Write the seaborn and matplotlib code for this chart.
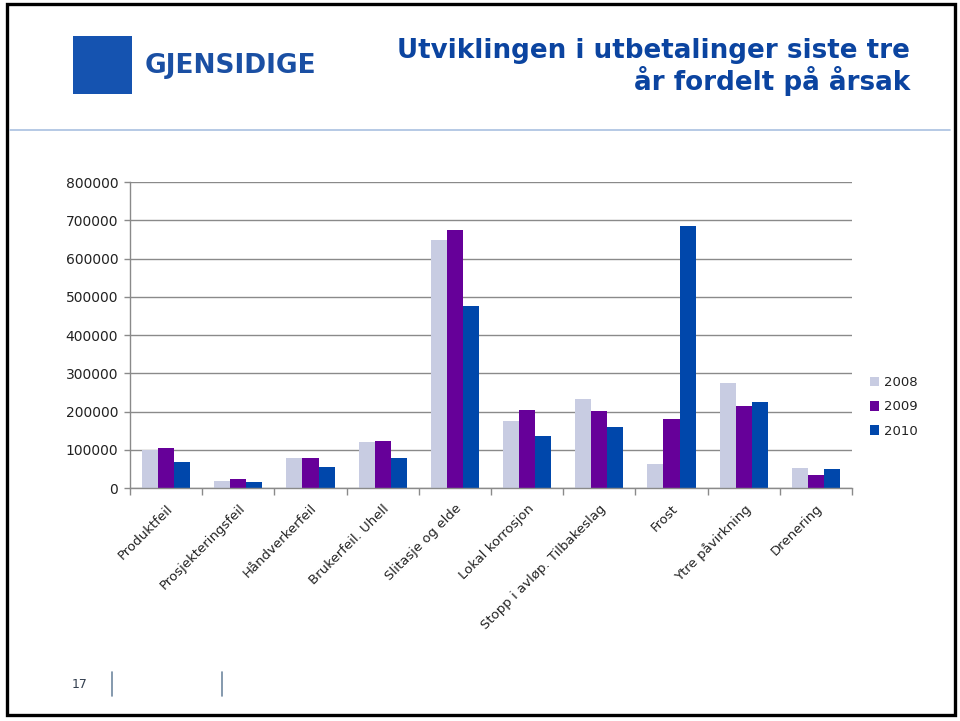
import pandas as pd
import seaborn as sns
import matplotlib.pyplot as plt
from matplotlib.patches import Rectangle
from matplotlib.lines import Line2D
from matplotlib.ticker import StrMethodFormatter

# data
causes = ['Produktfeil', 'Prosjekteringsfeil', 'Håndverkerfeil', 'Brukerfeil. Uhell',
          'Slitasje og elde', 'Lokal korrosjon', 'Stopp i avløp. Tilbakeslag', 'Frost',
          'Ytre påvirkning', 'Drenering']
y2008 = [100000, 19000, 79000, 119000, 648000, 174000, 232000, 64000, 275000, 51000]
y2009 = [104000, 23000, 79000, 124000, 674000, 204000, 201000, 180000, 215000, 35000]
y2010 = [68000, 16500, 55000, 79000, 476000, 135000, 159000, 685000, 224000, 49000]
years = ['2008', '2009', '2010']
colors = ['#c8cce2', '#660099', '#0047ab']

df = pd.DataFrame({'cause': causes, '2008': y2008, '2009': y2009, '2010': y2010})
df = df.melt(id_vars='cause', var_name='year', value_name='value')

sns.set_theme(style='white')
plt.rcParams['font.family'] = ['DejaVu Sans']

fig = plt.figure(figsize=(9.6, 7.21), dpi=100)
W, H = 960, 721
ax = fig.add_axes([130 / W, 1 - 488 / H, (852 - 130) / W, (488 - 182) / H])

sns.barplot(data=df, x='cause', y='value', hue='year', palette=colors,
            saturation=1, width=0.667, ax=ax, linewidth=0)

ax.set_ylim(0, 800000)
ax.set_xlim(-0.5, len(causes) - 0.5)
ax.set_yticks(range(0, 800001, 100000))
ax.yaxis.set_major_formatter(StrMethodFormatter('{x:.0f}'))
ax.yaxis.grid(True, color='#8a8a8a', linewidth=1)
ax.set_axisbelow(True)
ax.set_xlabel('')
ax.set_ylabel('')

for s in ['top', 'right']:
    ax.spines[s].set_visible(False)
for s in ['left', 'bottom']:
    ax.spines[s].set_color('#8a8a8a')
    ax.spines[s].set_linewidth(1)

ax.tick_params(axis='y', length=4, width=1, color='#8a8a8a', labelsize=10,
               labelcolor='#222222', pad=4.5, left=True)
ax.set_xticks(range(len(causes)))
ax.set_xticklabels(causes, rotation=45, ha='right', rotation_mode='anchor')
ax.tick_params(axis='x', length=0, labelsize=9.5, labelcolor='#222222', pad=10)
ax.set_xticks([i - 0.5 for i in range(len(causes) + 1)], minor=True)
ax.tick_params(axis='x', which='minor', length=5, width=1, color='#8a8a8a', bottom=True)

leg = ax.legend(loc='center left', bbox_to_anchor=(863 / W, 1 - 407 / H),
                bbox_transform=fig.transFigure, frameon=False, fontsize=9.5,
                handlelength=0.7, handleheight=0.7, handletextpad=0.4,
                labelspacing=0.85, borderpad=0)
for t in leg.get_texts():
    t.set_color('#222222')

# title
fig.text(910 / W, 1 - 51 / H, 'Utviklingen i utbetalinger siste tre', ha='right', va='center',
         fontsize=18.8, fontweight='bold', color='#0b44a0')
fig.text(910 / W, 1 - 81 / H, 'år fordelt på årsak', ha='right', va='center',
         fontsize=18.8, fontweight='bold', color='#0b44a0')

# separator under the header
fig.add_artist(Line2D([10 / W, 950 / W], [1 - 130 / H, 1 - 130 / H],
                      transform=fig.transFigure, color='#a9c0e0', linewidth=1.2))

# logo
fig.add_artist(Rectangle((73 / W, 1 - 94 / H), 59 / W, 58 / H, transform=fig.transFigure,
                         facecolor='#1553b0', edgecolor='none'))
fig.text(145 / W, 1 - 66 / H, 'GJENSIDIGE', ha='left', va='center', fontsize=19,
         fontweight='bold', color='#1a4fa3')

# footer
fig.text(80 / W, 1 - 684 / H, '17', ha='center', va='center', fontsize=9, color='#333f4f')
for xv in (112, 222):
    fig.add_artist(Line2D([xv / W, xv / W], [1 - 672 / H, 1 - 696 / H],
                          transform=fig.transFigure, color='#7088a0', linewidth=1.2))

# slide border
fig.add_artist(Rectangle((7 / W, 1 - 715 / H), 948 / W, 711 / H, transform=fig.transFigure,
                         facecolor='none', edgecolor='black', linewidth=2.4))

fig.savefig('out.png', dpi=100)
